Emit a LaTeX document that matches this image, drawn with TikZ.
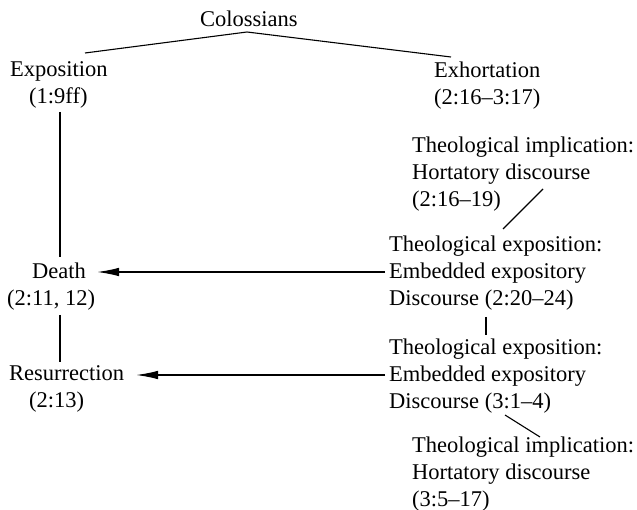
\documentclass[tikz,border=0pt]{standalone}
\usepackage{fontspec}
\setmainfont{Liberation Serif}
\usetikzlibrary{arrows.meta}
\tikzset{
  txt/.style={inner sep=0pt, anchor=north west, align=left, font=\fontsize{22.5}{26.8}\selectfont},
  link/.style={line width=1.1pt},
  arr/.style={line width=1.4pt, -{Latex[length=22pt,width=8.5pt]}}
}
\begin{document}
\begin{tikzpicture}[x=1pt,y=-1pt]
\useasboundingbox (0,0) rectangle (637,510);
\node[txt, anchor=base west] (col) at (200,27) {Colossians};
\node[txt] (expo) at (10,61.7) {Exposition\\\hspace*{19pt}(1:9ff)};
\node[txt] (exh) at (434,61.7) {Exhortation\\(2:16–3:17)};
\node[txt] (impl1) at (412,136.7) {Theological implication:\\Hortatory discourse\\(2:16–19)};
\node[txt] (tex1) at (389,235.7) {Theological exposition:\\Embedded expository\\Discourse (2:20–24)};
\node[txt] (death) at (7,262.7) {\hspace*{25pt}Death\\(2:11, 12)};
\node[txt] (tex2) at (389,338.7) {Theological exposition:\\Embedded expository\\Discourse (3:1–4)};
\node[txt] (res) at (9,365.7) {Resurrection\\\hspace*{20pt}(2:13)};
\node[txt] (impl2) at (412,436.7) {Theological implication:\\Hortatory discourse\\(3:5–17)};

\draw[link] ([shift={(75,-8.7)}]expo.north west) -- ([shift={(47,5)}]col.base west) -- ([shift={(17,-4.7)}]exh.north west);
\draw[link] ([shift={(50,50.3)}]expo.north west) -- ([shift={(53,-5.7)}]death.north west);
\draw[link] ([shift={(53,52.3)}]death.north west) -- ([shift={(51,-3.7)}]res.north west);
\draw[arr] ([shift={(-4,36.3)}]tex1.north west) -- ([shift={(90,9.3)}]death.north west);
\draw[arr] ([shift={(-4,36.3)}]tex2.north west) -- ([shift={(127,9.3)}]res.north west);
\draw[link] ([shift={(131,52.3)}]impl1.north west) -- ([shift={(114,-6.7)}]tex1.north west);
\draw[link] ([shift={(97,81.3)}]tex1.north west) -- ([shift={(97,-3.7)}]tex2.north west);
\draw[link] ([shift={(116,76.3)}]tex2.north west) -- ([shift={(128,0.3)}]impl2.north west);
\end{tikzpicture}
\end{document}
